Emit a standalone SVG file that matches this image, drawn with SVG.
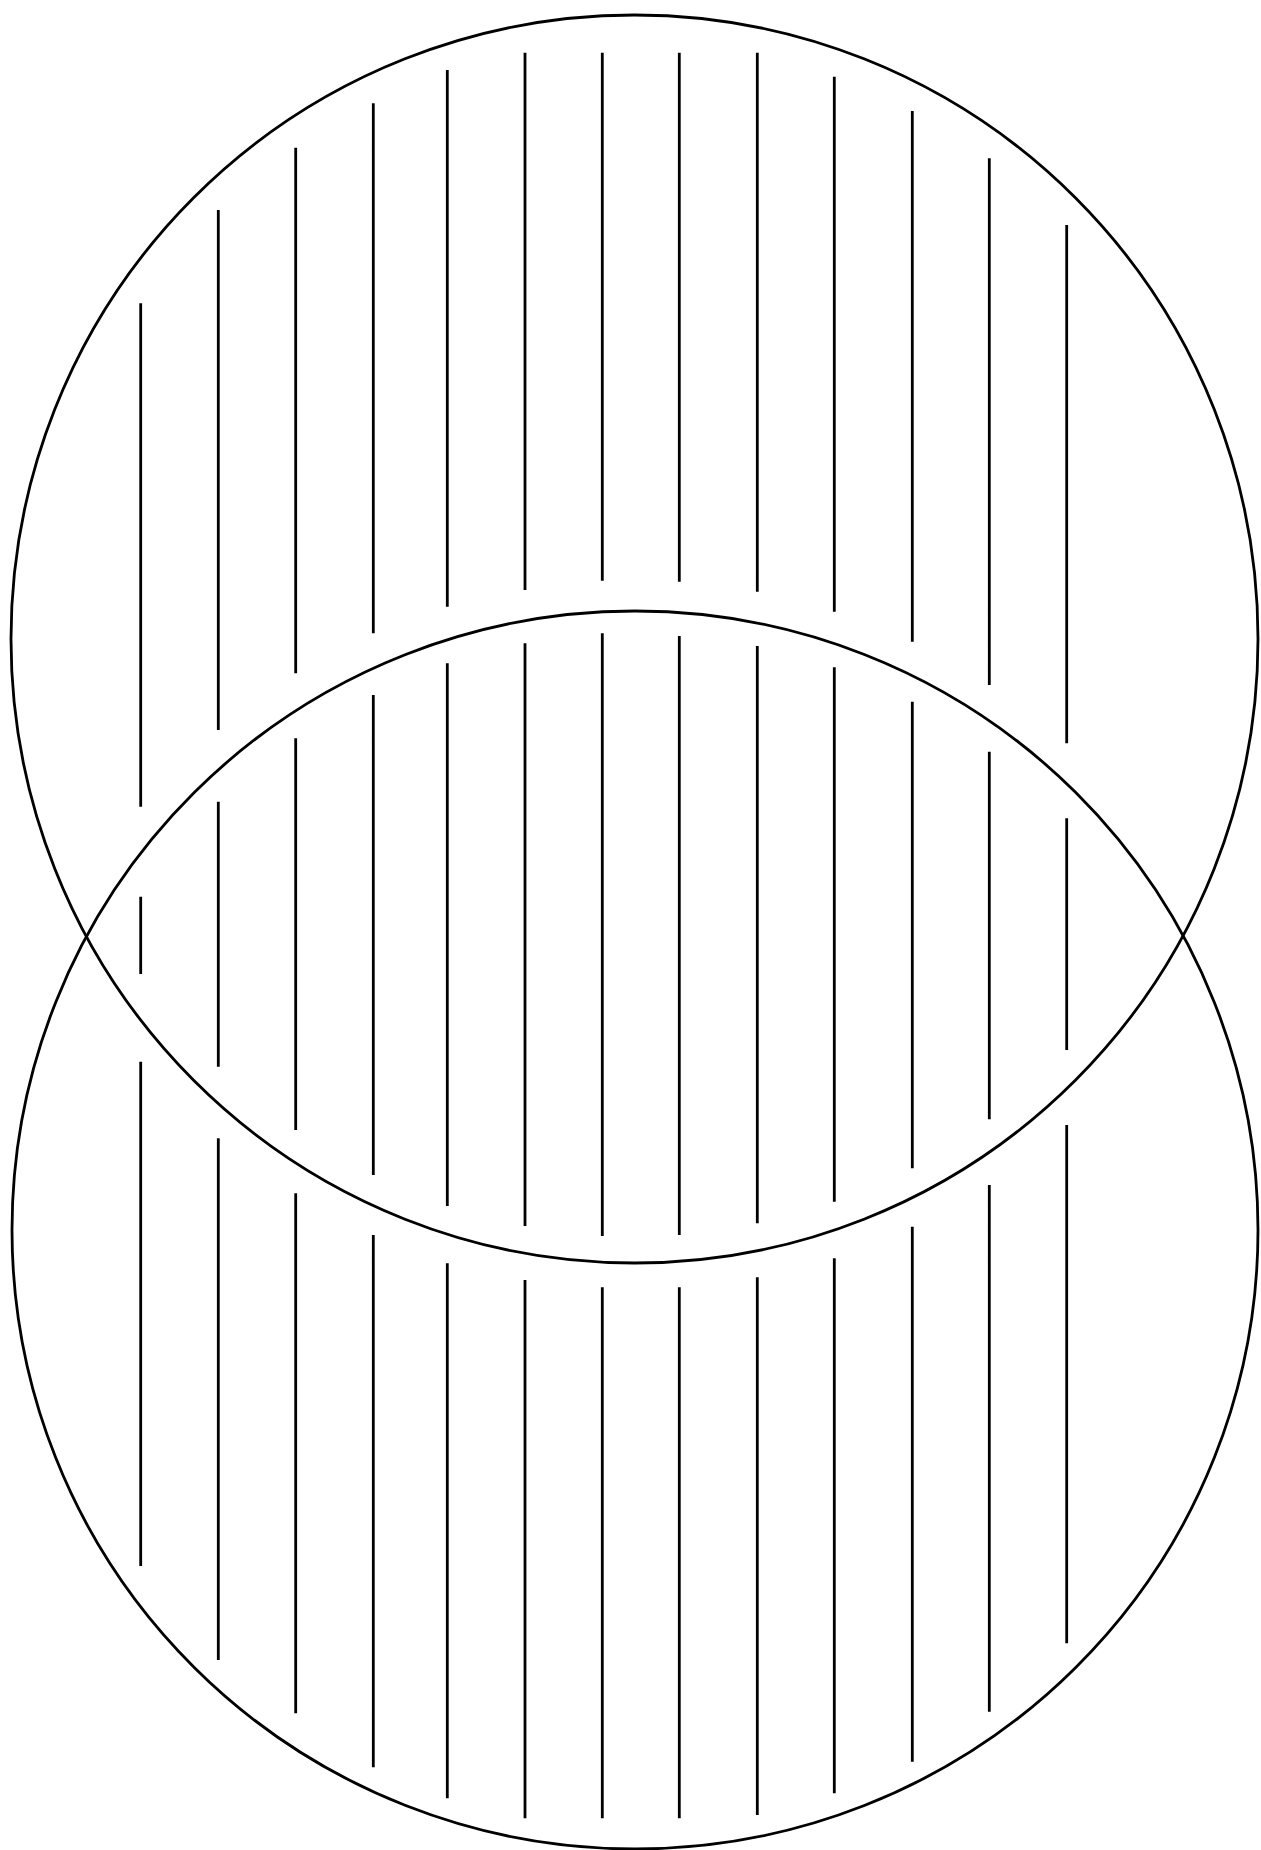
<svg xmlns="http://www.w3.org/2000/svg" width="1261" height="1850" viewBox="0 0 1261 1850">
<style>
.set{fill:none;stroke:#000;stroke-width:2.8}
.hatch{fill:none;stroke:#000;stroke-width:2.8;stroke-linecap:butt}
</style>
<rect x="0" y="0" width="1261" height="1850" fill="#fff"/>
<g id="hatching">
<path class="hatch" d="M140.7 303.3V806.7M140.7 896.7V974M140.7 1061.7V1566
M218.3 210V730M218.3 801.7V1066.7M218.3 1138.3V1660
M295.7 147.7V673.3M295.7 738.3V1130M295.7 1193.3V1713.3
M373.3 103.3V633.3M373.3 695V1175M373.3 1235V1767.3
M447.3 70V606.7M447.3 663.3V1206M447.3 1263.3V1798.3
M525 52.7V590M525 643.3V1226M525 1280V1818.3
M602.3 52.7V580.7M602.3 633.3V1236M602.3 1287.3V1818.3
M679.3 52.7V581.7M679.3 636V1235M679.3 1287.3V1818.3
M757.3 52.7V591.7M757.3 646V1223.3M757.3 1277.3V1815
M834.3 76.7V611.7M834.3 667.3V1201.7M834.3 1258.3V1793.3
M912.3 111V641.7M912.3 701.7V1168.3M912.3 1226.7V1761.7
M989.3 158.3V685M989.3 751.7V1119.3M989.3 1185V1711.7
M1066.7 225V743.3M1066.7 818.3V1050M1066.7 1125V1643.3"/>
</g>
<g id="set-upper">
<ellipse class="set" cx="634.5" cy="639" rx="623.5" ry="624"/>
</g>
<g id="set-lower">
<ellipse class="set" cx="635" cy="1230" rx="623" ry="619"/>
</g>
</svg>
